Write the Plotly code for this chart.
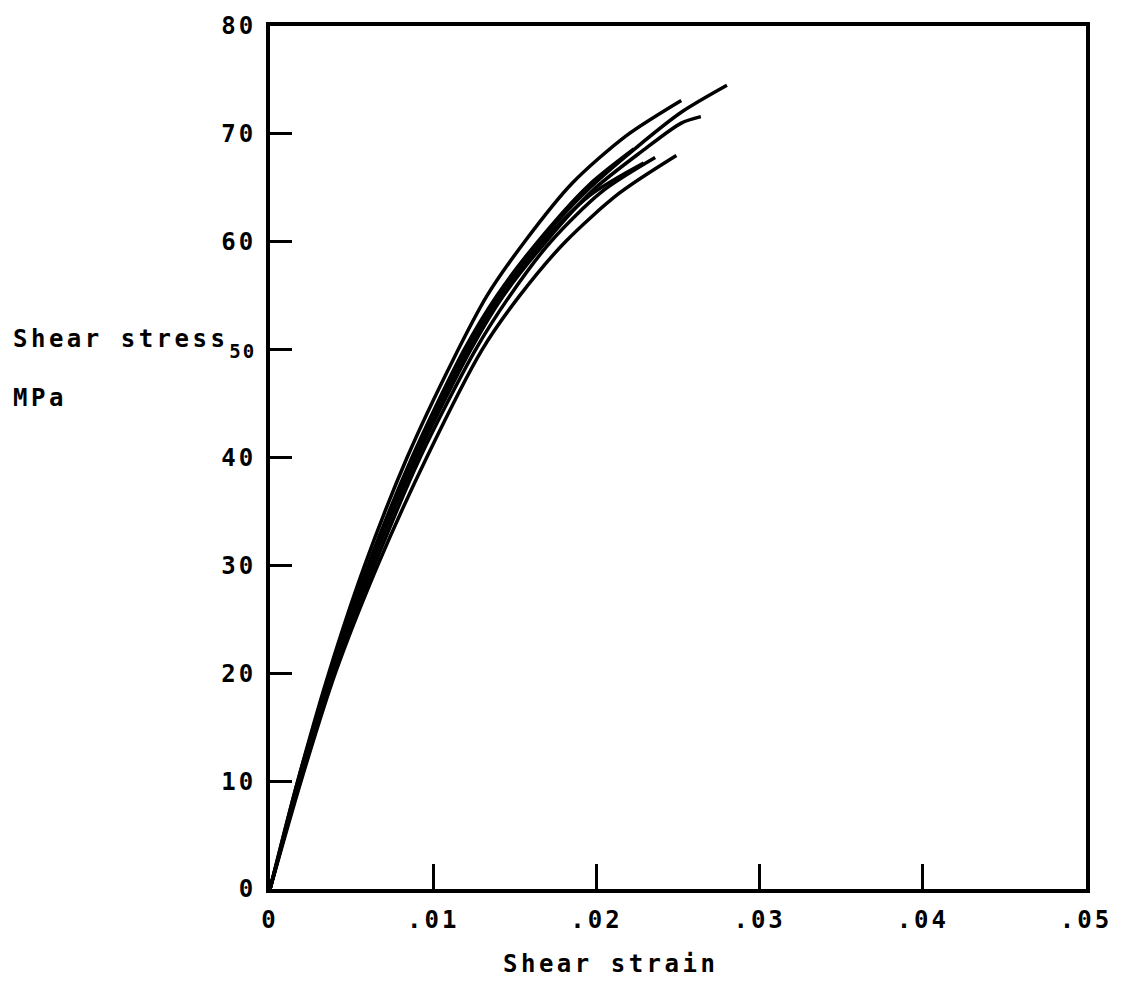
import plotly.graph_objects as go

# Shear strain / shear stress (MPa) for each specimen curve
curve_a_strain = [0, 0.0017, 0.0036, 0.0058, 0.0084, 0.0112, 0.0133, 0.0156, 0.0185, 0.0218, 0.0252]
curve_a_stress = [0, 10, 20, 30, 40, 49, 55, 60, 65.4, 69.8, 73.1]

curve_b_strain = [0, 0.0018, 0.0037, 0.0061, 0.0088, 0.0120, 0.0140, 0.0165, 0.0196, 0.0225, 0.0252, 0.0280]
curve_b_stress = [0, 10, 20, 30, 40, 50, 55, 60, 65.0, 68.8, 72.0, 74.5]

curve_c_strain = [0, 0.0018, 0.0038, 0.0062, 0.0090, 0.0123, 0.0143, 0.0169, 0.0198, 0.0228, 0.0252, 0.0264]
curve_c_stress = [0, 10, 20, 30, 40, 50, 55, 60, 64.8, 68.4, 71.0, 71.6]

curve_d_strain = [0, 0.0018, 0.0038, 0.0062, 0.0089, 0.0122, 0.0142, 0.0167, 0.0196, 0.0229]
curve_d_stress = [0, 10, 20, 30, 40, 50, 55, 60, 64.3, 67.3]

curve_e_strain = [0, 0.0019, 0.0040, 0.0066, 0.0096, 0.0130, 0.0153, 0.0181, 0.0214, 0.0249]
curve_e_stress = [0, 10, 20, 30, 40, 50, 55, 60, 64.5, 68.0]

curve_f_strain = [0, 0.0017, 0.0037, 0.0060, 0.0087, 0.0119, 0.0139, 0.0164, 0.0195, 0.0223]
curve_f_stress = [0, 10, 20, 30, 40, 50, 55, 60, 65.2, 68.6]

curve_g_strain = [0, 0.0018, 0.0039, 0.0064, 0.0092, 0.0126, 0.0147, 0.0172, 0.0203, 0.0236]
curve_g_stress = [0, 10, 20, 30, 40, 50, 55, 60, 64.6, 67.8]

curves = [
    (curve_a_strain, curve_a_stress),
    (curve_b_strain, curve_b_stress),
    (curve_c_strain, curve_c_stress),
    (curve_d_strain, curve_d_stress),
    (curve_e_strain, curve_e_stress),
    (curve_f_strain, curve_f_stress),
    (curve_g_strain, curve_g_stress),
]

x_tick_vals = [0, 0.01, 0.02, 0.03, 0.04, 0.05]
x_tick_text = ["0", ".01", ".02", ".03", ".04", ".05"]
y_tick_vals = [0, 10, 20, 30, 40, 50, 60, 70, 80]
y_tick_text = ["0", "10", "20", "30", "40", "50", "60", "70", "80"]

FONT = "DejaVu Sans Mono"

# layout geometry (figure pixels)
W, H = 1105, 977
ML, MR, MT, MB = 262, 26.5, 17.5, 96
PW = W - ML - MR
PH = H - MT - MB
PAGE_X0 = 8 + ML          # plot left edge on the page
PAGE_Y0 = 8 + H - MB      # plot bottom edge on the page


def spaced(t, sp=3, size=None):
    style = f"letter-spacing:{sp}px"
    if size:
        style += f";font-size:{size}px"
    return f'<span style="{style}">{t}</span>'


def px(page_x):
    return (page_x - PAGE_X0) / PW


def py(page_y):
    return (PAGE_Y0 - page_y) / PH


y_tick_labels = [spaced(t, 2 if t == "50" else 3, 19 if t == "50" else None) for t in y_tick_text]

fig = go.Figure()
for xs, ys in curves:
    fig.add_trace(go.Scatter(
        x=xs, y=ys, mode="lines",
        line=dict(color="black", width=3.5, shape="spline", smoothing=0.8),
        showlegend=False, hoverinfo="skip",
    ))

tick_font = dict(family=FONT, size=24, color="black", weight="bold")

fig.update_layout(
    width=W, height=H,
    margin=dict(l=ML, r=MR, t=MT, b=MB, autoexpand=False),
    paper_bgcolor="white", plot_bgcolor="white",
    font=dict(family=FONT, size=24, color="black"),
    showlegend=False,
)

fig.update_xaxes(
    range=[0, 0.05], tickvals=x_tick_vals, ticktext=[spaced(t) for t in x_tick_text],
    ticks="inside", ticklen=25, tickwidth=2.5, tickcolor="black",
    showline=True, linewidth=4, linecolor="black", mirror=True,
    showgrid=False, zeroline=False, ticklabelstandoff=6,
    automargin=False, ticklabeloverflow="allow",
    tickfont=tick_font,
)
fig.update_yaxes(
    range=[0, 80], tickvals=y_tick_vals, ticktext=y_tick_labels,
    ticks="inside", ticklen=22, tickwidth=2.5, tickcolor="black",
    showline=True, linewidth=4, linecolor="black", mirror=True,
    showgrid=False, zeroline=False, ticklabelstandoff=5,
    automargin=False, ticklabeloverflow="allow",
    tickfont=tick_font,
)

ann_font = dict(family=FONT, size=24, color="black", weight="bold")
fig.add_annotation(
    text=spaced("Shear stress", 3.5), xref="paper", yref="paper",
    x=px(11), y=py(339),
    xanchor="left", yanchor="middle", showarrow=False, font=ann_font,
)
fig.add_annotation(
    text=spaced("MPa", 3.5), xref="paper", yref="paper",
    x=px(11), y=py(398),
    xanchor="left", yanchor="middle", showarrow=False, font=ann_font,
)
fig.add_annotation(
    text=spaced("Shear strain", 3.5), xref="paper", yref="paper",
    x=px(611), y=py(964),
    xanchor="center", yanchor="middle", showarrow=False, font=ann_font,
)

fig.write_html("out.html")
